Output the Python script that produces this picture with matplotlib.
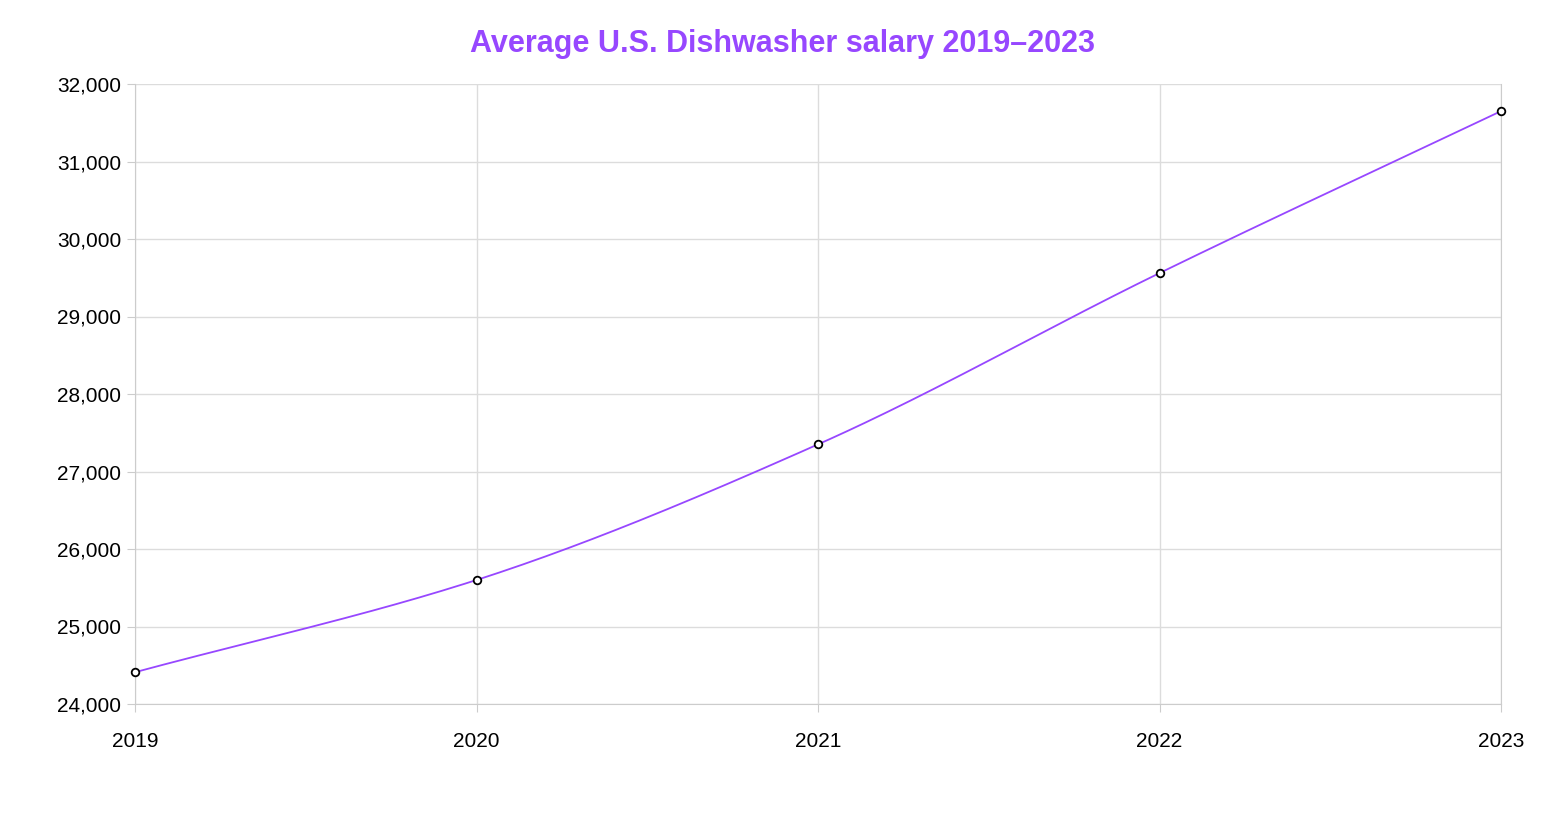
import numpy as np
import matplotlib
matplotlib.use("Agg")
import matplotlib.pyplot as plt
from matplotlib.ticker import FuncFormatter

years = [2019, 2020, 2021, 2022, 2023]
salaries = [24410, 25600, 27350, 29560, 31650]
title = "Average U.S. Dishwasher salary 2019–2023"
purple = "#9747FF"

def monotone(x, y, n=60):
    x = np.asarray(x, float); y = np.asarray(y, float)
    h = np.diff(x); d = np.diff(y) / h
    m = np.zeros_like(y)
    m[0] = d[0]; m[-1] = d[-1]
    for i in range(1, len(y) - 1):
        if d[i-1] * d[i] <= 0:
            m[i] = 0
        else:
            m[i] = (3*(h[i-1]+h[i])) / ((2*h[i]+h[i-1])/d[i-1] + (h[i]+2*h[i-1])/d[i])
    xs, ys = [], []
    for i in range(len(h)):
        t = np.linspace(0, 1, n)
        h00 = 2*t**3 - 3*t**2 + 1; h10 = t**3 - 2*t**2 + t
        h01 = -2*t**3 + 3*t**2; h11 = t**3 - t**2
        xs.append(x[i] + t*h[i])
        ys.append(h00*y[i] + h10*h[i]*m[i] + h01*y[i+1] + h11*h[i]*m[i+1])
    return np.concatenate(xs), np.concatenate(ys)

plt.rcParams["font.family"] = "Liberation Sans"
fig = plt.figure(figsize=(15.66, 8.24), dpi=100)
ax = fig.add_axes([135/1566, 1-704/824, (1501-135)/1566, (704-84)/824])
sx, sy = monotone(years, salaries)
ax.plot(sx, sy, color=purple, lw=1.3, zorder=3, clip_on=False)
ax.scatter(years, salaries, s=30, facecolor="white", edgecolor="black", linewidth=1.3, zorder=4, clip_on=False)
ax.set_xlim(2019, 2023)
ax.set_ylim(24000, 32000)
ax.set_xticks(years)
ax.set_yticks(range(24000, 32001, 1000))
ax.yaxis.set_major_formatter(FuncFormatter(lambda v, p: f"{int(v):,}"))
ax.grid(True, color="#dcdcdc", lw=1)
ax.set_axisbelow(True)
for s in ax.spines.values():
    s.set_visible(False)
for side in ("bottom", "left", "right"):
    ax.spines[side].set_visible(True); ax.spines[side].set_color("#cccccc")
ax.tick_params(axis="both", labelsize=15, length=6, color="#cccccc")
ax.tick_params(axis="x", pad=14)
ax.tick_params(axis="y", pad=4)
fig.text(0.5, 1-44/824, title, ha="center", va="center", color=purple, fontsize=22, fontweight="bold")
fig.savefig("out.png", dpi=100)
